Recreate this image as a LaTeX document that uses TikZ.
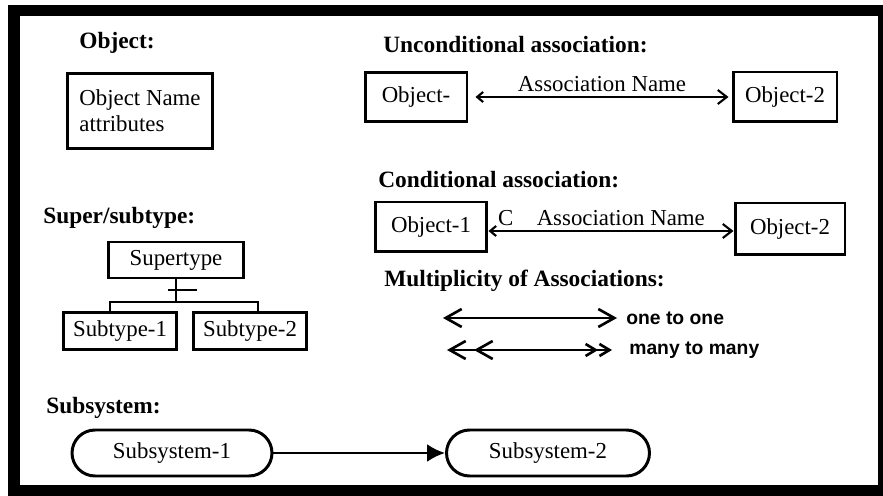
\documentclass[tikz,border=0pt]{standalone}
\usepackage{fontspec}
\setmainfont{Liberation Serif}
\newfontfamily\labelsans{Liberation Sans}
\usepackage{tikz}
\usetikzlibrary{arrows.meta}

\begin{document}
\begin{tikzpicture}[x=0.02cm, y=-0.02cm,
    font=\fontsize{13}{15}\selectfont,
    head/.style={font=\fontsize{13.3}{15}\selectfont\bfseries, anchor=west, inner sep=0pt},
    obj/.style={draw, line width=1.7pt, inner sep=1pt},
    subsys/.style={draw, line width=1.7pt, minimum width=4cm, minimum height=0.92cm, rounded corners=0.46cm},
    assoc/.style={line width=1.2pt},
    multi/.style={line width=1.5pt, font=\labelsans\bfseries\fontsize{11}{13}\selectfont}]
    \useasboundingbox (0,0) rectangle (883,496);
    % frame
    \fill[black] (8,5) rectangle (883,496);
    \fill[white] (20,16) rectangle (878,485);

    % object
    \node[head] (hobj) at (79,43) {Object:};
    \node[obj, minimum width=2.92cm, minimum height=1.5cm, align=left] (objbox) at (140,111) {Object Name\\ attributes};

    % unconditional association
    \node[head] (huncond) at (383,45) {Unconditional association:};
    \node[obj, minimum width=2.04cm, minimum height=0.98cm] (ua) at (416,97) {Object-};
    \node[obj, minimum width=2.08cm, minimum height=1.0cm] (ub) at (785,97) {Object-2};
    \draw[assoc, {Straight Barb[length=0.12cm,width=0.2cm]}-{Straight Barb[length=0.18cm,width=0.28cm]}]
        ([xshift=0.14cm]ua.east) -- node[above=-1pt] {Association Name} ([xshift=-0.06cm]ub.west);

    % conditional association
    \node[head] (hcond) at (378,180) {Conditional association:};
    \node[obj, minimum width=2.24cm, minimum height=1.0cm] (ca) at (431,227) {Object-1};
    \node[obj, minimum width=2.2cm, minimum height=1.04cm] (cb) at (790,229) {Object-2};
    \draw[assoc, {Straight Barb[length=0.12cm,width=0.2cm]}-{Straight Barb[length=0.18cm,width=0.28cm]}]
        ([yshift=-0.08cm]ca.east) -- node[pos=0.07, above=-1pt] {C} node[pos=0.54, above=-1pt] {Association Name}
        ([yshift=-0.08cm]ca.east -| cb.west);

    % multiplicity
    \node[head] (hmult) at (384,281) {Multiplicity of Associations:};
    \coordinate (oa) at (443,318);
    \node[multi, anchor=west, inner sep=0pt] (one) at (625,318) {one to one};
    \draw[multi, {Straight Barb[length=0.32cm,width=0.36cm]}-{Straight Barb[length=0.32cm,width=0.36cm]}]
        (oa) -- ([xshift=-0.16cm]one.west);
    \coordinate (ma) at (447,350);
    \node[multi, anchor=west, inner sep=0pt] (many) at (628,350) {many to many};
    \draw[multi, {Straight Barb[length=0.32cm,width=0.36cm] Straight Barb[length=0.32cm,width=0.36cm, sep=0.14cm]}-{Straight Barb[length=0.2cm,width=0.24cm] Straight Barb[length=0.2cm,width=0.24cm]}]
        (ma) -- ([xshift=-0.32cm]many.west);

    % super/subtype
    \node[head] (hsuper) at (43,218) {Super/subtype:};
    \node[obj, minimum width=2.7cm, minimum height=0.72cm] (super) at (176,260) {Supertype};
    \node[obj, minimum width=2.28cm, minimum height=0.74cm] (sub1) at (120,331) {Subtype-1};
    \node[obj, minimum width=2.28cm, minimum height=0.74cm] (sub2) at (250,331) {Subtype-2};
    \coordinate (bar) at (178,302);
    \coordinate (cross) at (182,290);
    \draw[line width=1.7pt] (super.south) -- (super.south |- bar);
    \draw[line width=1.7pt] ([xshift=-0.2cm]sub1.north) |- (bar) -| ([xshift=0.16cm]sub2.north);
    \draw[line width=1.7pt] ([xshift=-0.28cm]cross) -- ([xshift=0.3cm]cross);

    % subsystem
    \node[head] (hsub) at (46,408) {Subsystem:};
    \node[subsys] (s1) at (172,453) {Subsystem-1};
    \node[subsys, minimum width=4.06cm] (s2) at (548,453) {Subsystem-2};
    \draw[line width=1.5pt, -{Latex[length=0.36cm,width=0.36cm]}] (s1) -- (s2);
\end{tikzpicture}
\end{document}
